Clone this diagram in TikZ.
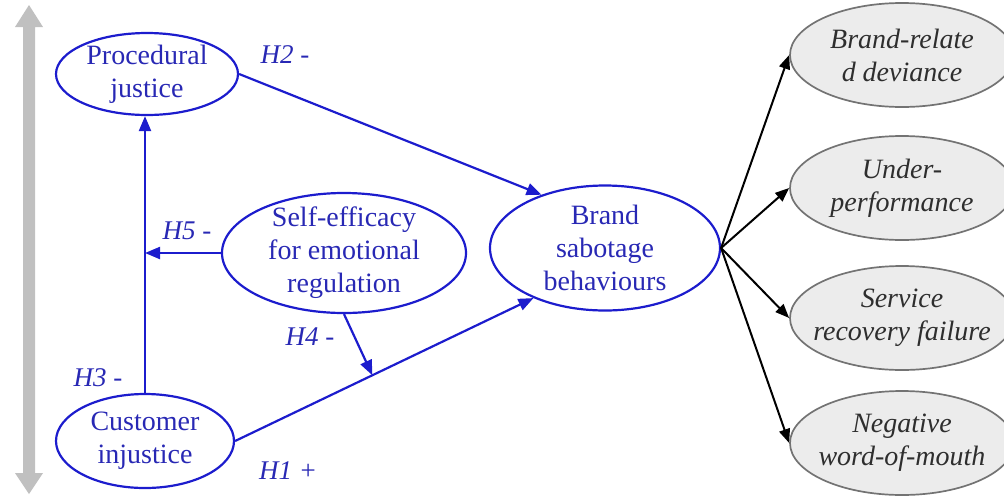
\documentclass[tikz,border=0pt]{standalone}
\usepackage{fontspec}
\setmainfont{Liberation Serif}
\usetikzlibrary{arrows.meta,calc,shapes.geometric}
\definecolor{pathblue}{RGB}{28,28,205}
\definecolor{textblue}{RGB}{40,40,180}
\definecolor{outcomefill}{RGB}{236,236,236}
\definecolor{outcomeline}{RGB}{115,115,115}
\definecolor{scalegray}{RGB}{192,192,192}
\begin{document}
\begin{tikzpicture}[x=1pt,y=-1pt,
  construct/.style={ellipse, draw=pathblue, line width=2.2pt, inner sep=0pt},
  outcome/.style={ellipse, draw=outcomeline, fill=outcomefill, line width=1.7pt,
    inner sep=0pt, minimum width=224pt, minimum height=104pt},
  ctext/.style={text=textblue, font=\fontsize{28}{33}\selectfont, align=center},
  otext/.style={text=black!82, font=\fontsize{28}{33}\selectfont\itshape, align=center},
  hyp/.style={text=textblue, font=\fontsize{27}{30}\selectfont\itshape},
  hpath/.style={draw=pathblue, line width=2.2pt, -{Triangle[length=15pt,width=12pt]}},
  effect/.style={draw=black, line width=2pt, -{Triangle[length=14pt,width=11pt]}},
]
\path[use as bounding box] (0,0) rectangle (1004,499);
\clip (0,0) rectangle (1004,499);

% vertical double-headed scale arrow
\fill[scalegray] (29,5) -- (43,27) -- (35,27) -- (35,473) -- (43,473) -- (29,494)
  -- (15,473) -- (23,473) -- (23,27) -- (15,27) -- cycle;

% constructs
\node[construct, minimum width=182pt, minimum height=82pt] (pj) at (147,74) {};
\node[ctext] (pjt) at (pj) {Procedural\\justice};
\node[construct, minimum width=178pt, minimum height=94pt] (ci) at (145,441) {};
\node[ctext] (cit) at (ci) {Customer\\injustice};
\node[construct, minimum width=244pt, minimum height=120pt] (se) at (344,253) {};
\node[ctext] (set) at (se) {Self-efficacy\\for emotional\\regulation};
\node[construct, minimum width=230pt, minimum height=125pt] (bsb) at (605,248) {};
\node[ctext] (bsbt) at (bsb) {Brand\\sabotage\\behaviours};

% outcome behaviours
\node[outcome] (o1) at (902,55) {};
\node[otext] (o1t) at (o1) {Brand-relate\\d deviance};
\node[outcome] (o2) at (902,188) {};
\node[otext] (o2t) at (o2) {Under-\\performance};
\node[outcome] (o3) at (902,318) {};
\node[otext] (o3t) at (o3) {Service\\recovery failure};
\node[outcome] (o4) at (902,443) {};
\node[otext] (o4t) at (o4) {Negative\\word-of-mouth};

% hypothesised paths
\coordinate (h4end) at ($(ci.east)!0.46!(bsb.215)$);
\draw[hpath] (pj.east) -- (bsb.140);
\draw[hpath] (ci.east) -- (bsb.215);
\draw[hpath] (ci.north) -- (ci.north |- pj.south);
\draw[hpath] (se.west) -- (se.west -| ci.north);
\draw[hpath] (se.south) -- (h4end);

% effects on outcomes
\draw[effect] (bsb.east) -- (o1.west);
\draw[effect] (bsb.east) -- (o2.west);
\draw[effect] (bsb.east) -- (o3.west);
\draw[effect] (bsb.east) -- (o4.west);

% hypothesis labels
\node[hyp] (h2) at (285,55) {H2 -};
\node[hyp] (h5) at (187,231) {H5 -};
\node[hyp] (h4) at (310,337) {H4 -};
\node[hyp] (h3) at (98,378) {H3 -};
\node[hyp] (h1) at (288,471) {H1 +};
\end{tikzpicture}
\end{document}
